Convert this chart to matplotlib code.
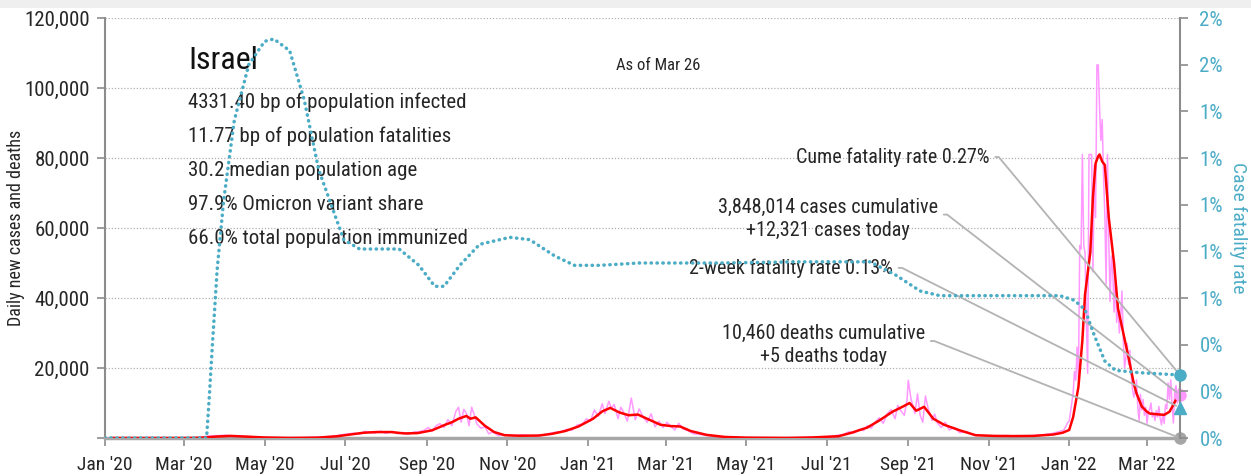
import numpy as np
import pandas as pd
import matplotlib
matplotlib.use('Agg')
import matplotlib.pyplot as plt
import matplotlib.dates as mdates
from matplotlib import font_manager
from matplotlib.ticker import FuncFormatter
from matplotlib.patches import Rectangle

# pick a narrow sans if one is installed, else squeeze DejaVu
names = {f.name for f in font_manager.fontManager.ttflist}
narrow = [n for n in ('Roboto Condensed', 'Archivo Narrow', 'PT Sans Narrow',
                      'Liberation Sans Narrow', 'Fira Sans Condensed', 'Pragati Narrow')
          if n in names]
if narrow:
    plt.rcParams['font.family'] = [narrow[0], 'DejaVu Sans']
else:
    plt.rcParams['font.family'] = ['DejaVu Sans']
    plt.rcParams['font.stretch'] = 'condensed'

# 7-day average of new cases
avg_dates = ['2020-01-06', '2020-03-01', '2020-03-15', '2020-03-25', '2020-04-05', '2020-04-20',
             '2020-05-01', '2020-05-20', '2020-06-10', '2020-06-25', '2020-07-05', '2020-07-15',
             '2020-07-25', '2020-08-05', '2020-08-15', '2020-08-25', '2020-09-05', '2020-09-15',
             '2020-09-20', '2020-09-25', '2020-10-01', '2020-10-04', '2020-10-08', '2020-10-15',
             '2020-10-22', '2020-10-30', '2020-11-10', '2020-11-25', '2020-12-05', '2020-12-15',
             '2020-12-25', '2021-01-05', '2021-01-12', '2021-01-18', '2021-01-25', '2021-02-01',
             '2021-02-08', '2021-02-15', '2021-02-25', '2021-03-05', '2021-03-12', '2021-03-20',
             '2021-04-01', '2021-04-15', '2021-05-01', '2021-06-01', '2021-06-20', '2021-07-01',
             '2021-07-10', '2021-07-20', '2021-08-01', '2021-08-10', '2021-08-20', '2021-08-28',
             '2021-09-02', '2021-09-07', '2021-09-13', '2021-09-20', '2021-09-28', '2021-10-10',
             '2021-10-22', '2021-11-05', '2021-11-20', '2021-12-05', '2021-12-20', '2021-12-27',
             '2022-01-01', '2022-01-04', '2022-01-08', '2022-01-11', '2022-01-13', '2022-01-15',
             '2022-01-17', '2022-01-19', '2022-01-21', '2022-01-23', '2022-01-24', '2022-01-26',
             '2022-01-28', '2022-01-31', '2022-02-04', '2022-02-07', '2022-02-11', '2022-02-15',
             '2022-02-19', '2022-02-21', '2022-02-25', '2022-03-01', '2022-03-03', '2022-03-08',
             '2022-03-14', '2022-03-18', '2022-03-21', '2022-03-23', '2022-03-26']
avg_cases = [0, 0, 100, 400, 600, 350,
             150, 20, 100, 500, 1000, 1500,
             1700, 1700, 1300, 1400, 2200, 3800,
             4500, 5500, 6300, 5500, 5900, 3500,
             1700, 800, 650, 700, 1200, 2000,
             3300, 5500, 7600, 8600, 7300, 6500,
             6700, 5500, 3800, 3400, 3300, 2000,
             900, 300, 100, 20, 150, 350,
             500, 1500, 3000, 5000, 7500, 9000,
             10000, 7800, 8900, 5500, 3800, 2200,
             800, 600, 550, 600, 1000, 1500,
             2300, 6000, 14600, 28000, 41000, 47000,
             53000, 69000, 78500, 80500, 81000, 79000,
             78000, 63000, 50000, 37000, 30000, 23000,
             15500, 12800, 9000, 7500, 7000, 6800,
             6600, 7500, 9500, 11000, 12300]

# reported daily cases
raw_dates = ['2020-01-06', '2020-03-10', '2020-03-20', '2020-03-28', '2020-04-02', '2020-04-08',
             '2020-04-15', '2020-04-25', '2020-05-10', '2020-06-01', '2020-06-20', '2020-06-28',
             '2020-07-04', '2020-07-08', '2020-07-12', '2020-07-16', '2020-07-20', '2020-07-24',
             '2020-07-28', '2020-08-01', '2020-08-06', '2020-08-10', '2020-08-14', '2020-08-18',
             '2020-08-22', '2020-08-26', '2020-08-30', '2020-09-02', '2020-09-05', '2020-09-08',
             '2020-09-11', '2020-09-14', '2020-09-17', '2020-09-20', '2020-09-23', '2020-09-25',
             '2020-09-27', '2020-09-29', '2020-10-01', '2020-10-03', '2020-10-05', '2020-10-07',
             '2020-10-09', '2020-10-12', '2020-10-15', '2020-10-18', '2020-10-21', '2020-10-25',
             '2020-10-29', '2020-11-05', '2020-11-12', '2020-11-20', '2020-11-28', '2020-12-04',
             '2020-12-08', '2020-12-12', '2020-12-16', '2020-12-20', '2020-12-24', '2020-12-28',
             '2020-12-31', '2021-01-03', '2021-01-06', '2021-01-09', '2021-01-12', '2021-01-14',
             '2021-01-17', '2021-01-19', '2021-01-21', '2021-01-24', '2021-01-26', '2021-01-28',
             '2021-01-31', '2021-02-03', '2021-02-06', '2021-02-09', '2021-02-12', '2021-02-15',
             '2021-02-18', '2021-02-21', '2021-02-24', '2021-02-27', '2021-03-02', '2021-03-05',
             '2021-03-08', '2021-03-11', '2021-03-14', '2021-03-18', '2021-03-22', '2021-03-26',
             '2021-04-01', '2021-04-08', '2021-04-15', '2021-05-01', '2021-06-01', '2021-06-20',
             '2021-07-01', '2021-07-08', '2021-07-14', '2021-07-18', '2021-07-22', '2021-07-26',
             '2021-07-29', '2021-08-01', '2021-08-04', '2021-08-07', '2021-08-10', '2021-08-13',
             '2021-08-16', '2021-08-19', '2021-08-22', '2021-08-24', '2021-08-26', '2021-08-29',
             '2021-08-31', '2021-09-01', '2021-09-03', '2021-09-06', '2021-09-08', '2021-09-10',
             '2021-09-12', '2021-09-14', '2021-09-16', '2021-09-19', '2021-09-21', '2021-09-23',
             '2021-09-26', '2021-09-29', '2021-10-02', '2021-10-06', '2021-10-10', '2021-10-15',
             '2021-10-20', '2021-10-26', '2021-11-05', '2021-11-15', '2021-11-25', '2021-12-05',
             '2021-12-12', '2021-12-18', '2021-12-22', '2021-12-25', '2021-12-28', '2021-12-31']
raw_cases = [0, 50, 600, 700, 800, 400,
             500, 200, 30, 100, 400, 900,
             1200, 1400, 1100, 1900, 1700, 1400,
             2000, 1300, 1900, 1200, 1600, 1100,
             1700, 1800, 2200, 3000, 2000, 3500,
             4100, 3000, 5300, 3500, 7600, 8800,
             4500, 8200, 7000, 3500, 8800, 6500,
             4000, 2800, 3200, 1200, 1800, 700,
             900, 600, 900, 600, 900, 1400,
             1700, 1800, 2500, 2200, 3700, 4000,
             5500, 4800, 8000, 6200, 9800, 7000,
             10500, 8500, 9600, 5500, 8800, 7500,
             4800, 11400, 5200, 8300, 6000, 4500,
             6900, 3200, 4800, 3000, 4500, 3300,
             2300, 4200, 2600, 2100, 1200, 1100,
             700, 400, 200, 80, 20, 200,
             300, 700, 1000, 1800, 1400, 2500,
             2100, 3500, 2800, 4600, 5800, 4200,
             6900, 8100, 5500, 9300, 8000, 6500,
             10800, 16500, 11300, 7000, 12600, 6500,
             4500, 12000, 8500, 5000, 6800, 4300,
             3000, 4500, 2300, 3000, 1500, 1900,
             900, 700, 500, 700, 500, 700,
             900, 1200, 1600, 1900, 2300, 4500]

# daily reports from 2022-01-01 on
raw_2022_cases = [4800, 7500, 10000, 12800, 19000, 16500, 26000, 17000, 55000, 54000,
                  81000, 55000, 53000, 33700, 18500, 81000, 81000, 81000, 47500, 78000,
                  63000, 106600, 106600, 94600, 85000, 91000, 75000, 64000, 44000, 81000,
                  56600, 39000, 52000, 48000, 36000, 46000, 33000, 38000, 30000, 35000,
                  42000, 28000, 20000, 23000, 27000, 21000, 25000, 18000, 14000, 11700,
                  13500, 16600, 9000, 5000, 12500, 8000, 11000, 6500, 8800, 4200,
                  7500, 8200, 10000, 6000, 7200, 5000, 7800, 6000, 9000, 5500,
                  3800, 7000, 4200, 9500, 8300, 15700, 11000, 16600, 9000, 4300,
                  13500, 15000, 10000, 14000, 12321]

# case fatality rate, percent
cfr_dates = ['2020-01-01', '2020-03-18', '2020-03-20', '2020-03-22', '2020-03-26', '2020-03-31',
             '2020-04-08', '2020-04-19', '2020-05-01', '2020-05-08', '2020-05-20', '2020-05-31',
             '2020-06-11', '2020-06-23', '2020-06-30', '2020-07-12', '2020-08-11', '2020-08-26',
             '2020-09-07', '2020-09-14', '2020-09-26', '2020-10-11', '2020-11-03', '2020-11-18',
             '2020-12-07', '2020-12-22', '2021-01-10', '2021-02-09', '2021-04-11', '2021-06-11',
             '2021-08-03', '2021-08-22', '2021-09-10', '2021-09-25', '2021-12-25', '2022-01-05',
             '2022-01-13', '2022-01-20', '2022-01-28', '2022-02-05', '2022-02-23', '2022-03-26']
cfr_pct = [0.0, 0.0, 0.17, 0.36, 0.72, 1.02,
           1.36, 1.60, 1.70, 1.71, 1.66, 1.45,
           1.15, 0.96, 0.85, 0.81, 0.81, 0.74,
           0.65, 0.65, 0.74, 0.83, 0.86, 0.85,
           0.78, 0.74, 0.74, 0.75, 0.75, 0.755,
           0.755, 0.70, 0.63, 0.61, 0.61, 0.59,
           0.55, 0.44, 0.33, 0.29, 0.28, 0.27]

last_day = pd.Timestamp('2022-03-26')
cases_total = 3848014
cases_today = 12321
deaths_total = 10460
deaths_today = 5
cume_cfr = 0.27
two_week_cfr = 0.13

stats = ['4331.40 bp of population infected',
         '11.77 bp of population fatalities',
         '30.2 median population age',
         '97.9% Omicron variant share',
         '66.0% total population immunized']

blue = '#4bacc6'
pink = '#ff99ff'
grey = '#a6a6a6'
ink = '#262626'

avg_dates = pd.to_datetime(avg_dates)
raw_all_dates = pd.to_datetime(raw_dates).append(
    pd.date_range('2022-01-01', periods=len(raw_2022_cases), freq='D'))
raw_all_cases = raw_cases + raw_2022_cases
cfr_dates = pd.to_datetime(cfr_dates)
last_num = mdates.date2num(last_day)

fig = plt.figure(figsize=(12.51, 4.76), dpi=100)
fig.patches.append(Rectangle((0, 1 - 8 / 476), 1, 8 / 476, transform=fig.transFigure,
                             facecolor='#efefef', edgecolor='none'))
ax = fig.add_axes([105 / 1251, 38 / 476, 1075 / 1251, 420 / 476])
ax2 = ax.twinx()

ax.plot(raw_all_dates, raw_all_cases, color=pink, lw=1.1, zorder=2)
ax.plot(avg_dates, avg_cases, color='#ff0000', lw=1.8, zorder=3)
ax2.plot(cfr_dates, cfr_pct, color=blue, lw=2.5, linestyle=(0, (0.1, 1.6)),
         dash_capstyle='round')

# end-of-series markers
ax.plot(last_day, cases_today, 'o', color=pink, ms=8, clip_on=False, zorder=5)
ax.plot(last_day, deaths_today, 'o', color=grey, ms=8, clip_on=False, zorder=5)
ax2.plot(last_day, cume_cfr, 'o', color=blue, ms=8, clip_on=False, zorder=5)
ax2.plot(last_day, two_week_cfr, '^', color=blue, ms=9, clip_on=False, zorder=5)

ax.set_xlim(pd.Timestamp('2020-01-01'), last_day)
ax.set_ylim(0, 120000)
ax2.set_ylim(0, 1.8)

ax.xaxis.set_major_locator(mdates.MonthLocator(bymonth=[1, 3, 5, 7, 9, 11]))
ax.xaxis.set_major_formatter(mdates.DateFormatter("%b '%y"))
ax.set_yticks(np.arange(0, 120001, 20000))
ax.yaxis.set_major_formatter(FuncFormatter(lambda v, p: '' if v == 0 else f'{v:,.0f}'))
ax2.set_yticks(np.linspace(0, 1.8, 10))
ax2.yaxis.set_major_formatter(FuncFormatter(lambda v, p: f'{v:.0f}%'))

ax.yaxis.grid(True, linestyle=(0, (1, 1.5)), color='#b0b0b0', lw=0.9)
ax.set_axisbelow(True)

for a in (ax, ax2):
    a.spines['top'].set_visible(False)
ax.spines['right'].set_visible(False)
ax2.spines['left'].set_visible(False)
ax2.spines['bottom'].set_visible(False)
ax.spines['left'].set_color('#8c8c8c')
ax.spines['left'].set_linewidth(1.5)
ax2.spines['right'].set_color('#8c8c8c')
ax2.spines['right'].set_linewidth(1.5)
ax.spines['bottom'].set_color(grey)
ax.spines['bottom'].set_linewidth(2.5)

ax.tick_params(axis='x', direction='out', length=6, width=1.2, color='#8c8c8c',
               labelsize=14, labelcolor=ink, pad=7)
ax.tick_params(axis='y', direction='out', length=6, width=1.2, color='#8c8c8c',
               labelsize=15, labelcolor=ink, pad=5)
ax2.tick_params(axis='y', direction='out', length=6, width=1.2, color='#8c8c8c',
                labelsize=15, labelcolor=blue, pad=8)

ax.set_ylabel('Daily new cases and deaths', fontsize=13, color=ink)
ax.yaxis.set_label_coords(-0.074, 0.5)
ax2.set_ylabel('Case fatality rate', fontsize=14, color=blue, rotation=270, va='center')
ax2.yaxis.set_label_coords(1.054, 0.5)

ax.text(0.0772, 0.9, 'Israel', transform=ax.transAxes, fontsize=23, color='#111111',
        va='center', ha='left')
for i, line in enumerate(stats):
    ax.text(0.0772, 0.80 - i * 0.0815, line, transform=ax.transAxes, fontsize=15,
            color=ink, va='center', ha='left')
ax.text(0.515, 0.886, 'As of Mar 26', transform=ax.transAxes, fontsize=12, color=ink,
        va='center', ha='center')

# callouts tied to the last-day markers
def callout(text, xy, xytext, coords, rely=0.5):
    ax.annotate(text, xy=xy, xycoords=coords, xytext=xytext, textcoords='axes fraction',
                ha='right', va='center', multialignment='center', fontsize=14.5,
                color=ink, linespacing=1.25, annotation_clip=False, zorder=6,
                arrowprops=dict(arrowstyle='-', color='#b3b3b3', lw=1.3,
                                relpos=(1, rely), shrinkA=2, shrinkB=3,
                                connectionstyle='arc,angleA=0,armA=9,angleB=0,armB=0,rad=0'))

callout(f'Cume fatality rate {cume_cfr:.2f}%', (last_num, cume_cfr), (0.823, 0.669),
        ax2.transData)
callout(f'{cases_total:,} cases cumulative\n+{cases_today:,} cases today',
        (last_num, cases_today), (0.775, 0.522), ax.transData, rely=0.6)
callout(f'2-week fatality rate {two_week_cfr:.2f}%', (last_num, two_week_cfr),
        (0.733, 0.405), ax2.transData)
callout(f'{deaths_total:,} deaths cumulative\n+{deaths_today} deaths today',
        (last_num, deaths_today), (0.763, 0.221), ax.transData, rely=0.6)

fig.savefig('out.png', dpi=100)
plt.close(fig)
